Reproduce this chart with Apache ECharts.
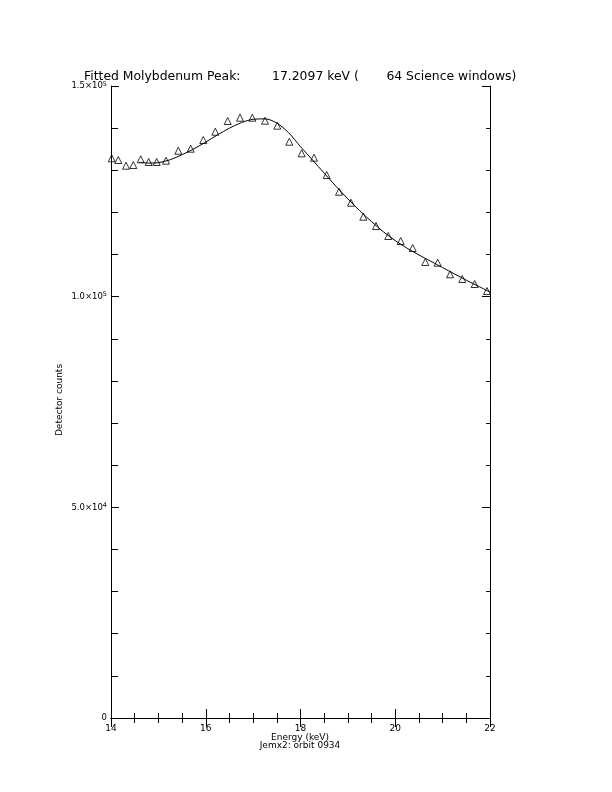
<!DOCTYPE html>
<html><head><meta charset="utf-8">
<script src="https://cdn.jsdelivr.net/npm/echarts@6/dist/echarts.min.js"></script>
<style>html,body{margin:0;padding:0;background:#fff}#c{width:612px;height:792px}</style>
</head><body><div id="c"></div>
<script>
const energyPoints = [14.015,14.154,14.317,14.471,14.627,14.796,14.965,15.161,15.421,15.682,15.948,16.202,16.463,16.723,16.983,17.251,17.510,17.764,18.025,18.285,18.553,18.813,19.066,19.326,19.594,19.853,20.115,20.368,20.634,20.896,21.156,21.415,21.677,21.937];
const countPoints = [132840,132436,131083,131249,132602,131961,131961,132270,134643,135118,137183,139153,141692,142476,142476,141764,140578,136779,134026,132981,128876,124912,122301,118978,116771,114398,113211,111550,108227,108061,105308,104192,103006,101344];
const fitEnergy = [14.6,14.8,15.0,15.25,15.5,15.75,16.0,16.25,16.5,16.75,17.0,17.25,17.5,17.75,18.0,18.25,18.5,18.75,19.0,19.25,19.5,19.75,20.0,20.25,20.5,20.75,21.0,21.25,21.5,21.75,22.0];
const fitCounts = [131900,131700,131800,132500,133700,135100,136700,138400,140000,141300,142100,142200,141200,138900,135600,132500,129300,126200,123200,120400,117800,115400,113300,111500,109900,108400,106900,105400,103900,102500,101100];
const xTicks = [14,16,18,20,22];
const yTickLabels = {0:'0',50000:'5.0×10{s|4}',100000:'1.0×10{s|5}',150000:'1.5×10{s|5}'};
const titleText = 'Fitted Molybdenum Peak:        17.2097 keV (       64 Science windows)';
const xName1 = 'Energy (keV)';
const xName2 = 'Jemx2: orbit 0934';
const yName = 'Detector counts';

const chart = echarts.init(document.getElementById('c'), null, {renderer:'canvas'});
const FONT = 'DejaVu Sans';
const baseAxis = {
  axisLine:{show:true,lineStyle:{color:'#000',width:1}},
  splitLine:{show:false},
  minorSplitLine:{show:false}
};
chart.setOption({
  animation:false,
  backgroundColor:'#fff',
  title:{text:titleText,left:79,top:66,textStyle:{fontFamily:FONT,fontSize:12.4,fontWeight:'normal',color:'#000'}},
  grid:{left:111,top:86,width:379,height:632,containLabel:false},
  xAxis:[
    Object.assign({},baseAxis,{type:'value',min:14,max:22,interval:2,position:'bottom',
      axisTick:{show:true,inside:true,length:9,lineStyle:{color:'#000'}},
      minorTick:{show:true,splitNumber:4,length:5,lineStyle:{color:'#000'}},
      axisLabel:{show:true,fontFamily:FONT,fontSize:9,color:'#000',margin:6,
        formatter:v=>xTicks.indexOf(v)>=0?String(v):''}}),
    Object.assign({},baseAxis,{type:'value',min:14,max:22,interval:2,position:'top',
      axisTick:{show:true,inside:true,length:9,lineStyle:{color:'#000'}},
      minorTick:{show:true,splitNumber:4,length:5,lineStyle:{color:'#000'}},
      axisLabel:{show:false}})
  ],
  yAxis:[
    Object.assign({},baseAxis,{type:'value',min:0,max:150000,interval:50000,position:'left',
      axisTick:{show:true,inside:true,length:8,lineStyle:{color:'#000'}},
      minorTick:{show:true,splitNumber:5,length:7,lineStyle:{color:'#000'}},
      axisLabel:{show:true,fontFamily:FONT,fontSize:8.5,color:'#000',margin:4,
        formatter:v=>yTickLabels[v]||'',
        rich:{s:{fontFamily:FONT,fontSize:6.5,color:'#000',verticalAlign:'top',padding:[0,0,4,0]}}}}),
    Object.assign({},baseAxis,{type:'value',min:0,max:150000,interval:50000,position:'right',
      axisTick:{show:true,inside:true,length:8,lineStyle:{color:'#000'}},
      minorTick:{show:true,splitNumber:5,length:4,lineStyle:{color:'#000'}},
      axisLabel:{show:false}})
  ],
  graphic:[
    {type:'text',x:300,y:733,style:{text:xName1,fontFamily:FONT,fontSize:9,fill:'#000',textAlign:'center'}},
    {type:'text',x:300,y:741,style:{text:xName2,fontFamily:FONT,fontSize:9,fill:'#000',textAlign:'center'}},
    {type:'text',x:60,y:400,rotation:Math.PI/2,style:{text:yName,fontFamily:FONT,fontSize:9,fill:'#000',textAlign:'center',textVerticalAlign:'middle'}}
  ],
  series:[
    {type:'line',xAxisIndex:0,yAxisIndex:0,data:fitEnergy.map((e,i)=>[e,fitCounts[i]]),smooth:0.3,showSymbol:false,symbol:'none',
      lineStyle:{color:'#000',width:1},z:2},
    {type:'scatter',xAxisIndex:0,yAxisIndex:0,data:energyPoints.map((e,i)=>[e,countPoints[i]]),symbol:'triangle',symbolSize:[7,7],
      itemStyle:{color:'rgba(255,255,255,0)',borderColor:'#000',borderWidth:1},z:3}
  ]
});
</script></body></html>
